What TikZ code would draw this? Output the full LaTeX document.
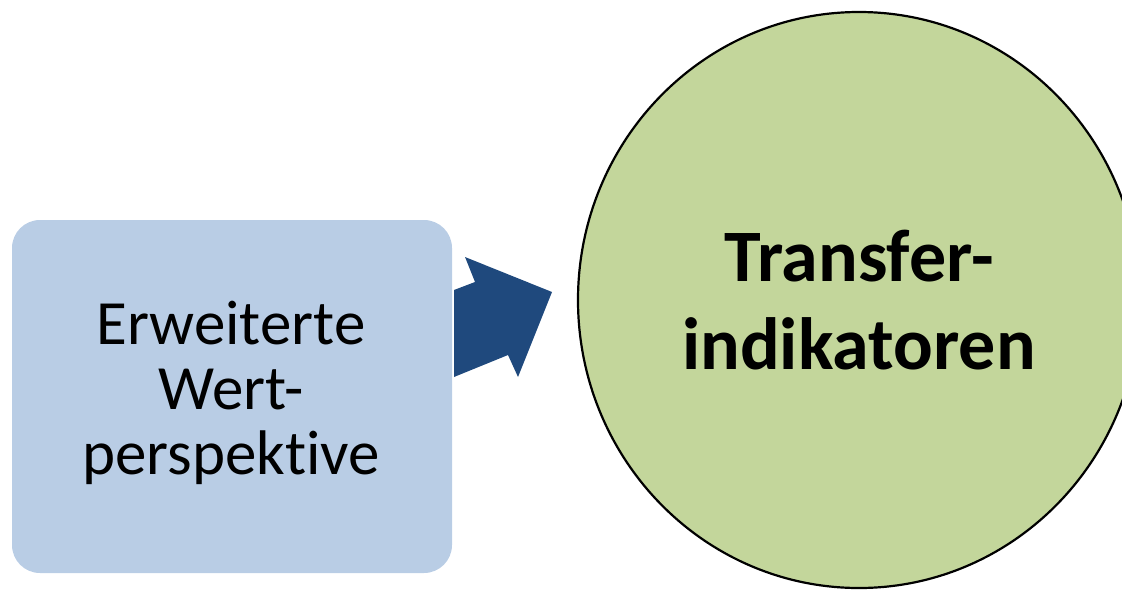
\documentclass[tikz,border=0pt]{standalone}
\usepackage{fontspec}
\setmainfont{Carlito}[Ligatures=NoCommon]
\usetikzlibrary{shapes.geometric}
\definecolor{boxblue}{HTML}{B9CDE5}
\definecolor{arrowblue}{HTML}{1F497D}
\definecolor{circgreen}{HTML}{C3D69B}
\begin{document}
\begin{tikzpicture}[x=1pt,y=-1pt,
  valuebox/.style={fill=boxblue, draw=none, rounded corners=28pt,
    minimum width=440pt, minimum height=353pt, inner sep=0pt},
  goal/.style={ellipse, fill=circgreen, draw=black, line width=2.2pt,
    minimum width=562pt, minimum height=576pt, inner sep=0pt},
  boxtext/.style={align=center, font=\fontsize{63}{65}\selectfont},
  goaltext/.style={align=center, font=\bfseries\fontsize{74}{88}\selectfont}]
  \useasboundingbox (0,0) rectangle (1122,590);
  \clip (0,0) rectangle (1122,590);

  % left box and its label
  \node[valuebox] (box) at (232,396.5) {};
  \node[boxtext] (boxlabel) at (231,393) {Erweiterte\\Wert-\\perspektive};

  % the ellipse on the right, running past the right edge
  \node[goal] (goal) at (859,300) {};
  \node[goaltext] (goallabel) at (859,300) {Transfer-\\indikatoren};

  % the block arrow between them
  \fill[arrowblue] (454,290) -- (475,282) -- (465,257) -- (552,292)
    -- (518,377) -- (508,355) -- (454,377) -- cycle;
\end{tikzpicture}
\end{document}
